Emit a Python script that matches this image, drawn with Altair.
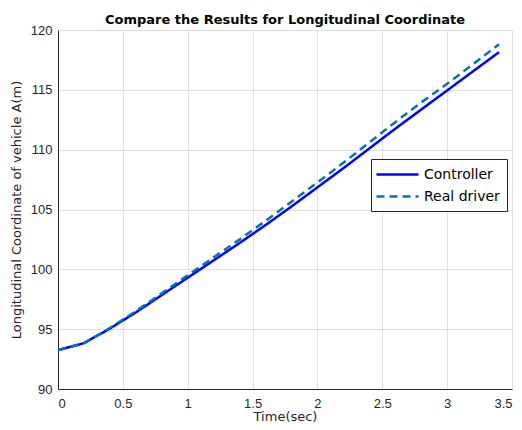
import altair as alt
import pandas as pd

time = [0.0, 0.2, 0.4, 0.6, 0.8, 1.0, 1.2, 1.4, 1.6, 1.8, 2.0, 2.2, 2.4, 2.6, 2.8, 3.0, 3.2, 3.4]
controller = [93.25, 93.83, 95.05, 96.4, 97.85, 99.3, 100.75, 102.2, 103.7, 105.25,
              106.85, 108.45, 110.1, 111.75, 113.35, 114.95, 116.55, 118.15]
real_driver = [93.25, 93.83, 95.1, 96.5, 98.0, 99.5, 101.0, 102.5, 104.05, 105.65,
               107.25, 108.9, 110.6, 112.3, 113.95, 115.5, 117.15, 118.8]
series_names = ["Controller", "Real driver"]
x_ticks = [0, 0.5, 1, 1.5, 2, 2.5, 3, 3.5]
y_ticks = [90, 95, 100, 105, 110, 115, 120]

rows = []
for name, vals in zip(series_names, [controller, real_driver]):
    for t, v in zip(time, vals):
        rows.append({"t": t, "v": v, "series": name})
df = pd.DataFrame(rows)

axis_common = dict(
    grid=True, gridColor="#DFDFDF", gridWidth=1,
    domainColor="#262626", domainWidth=1,
    ticks=False,
    labelFont="Liberation Sans", labelFontSize=13, labelColor="#262626",
    titleFont="DejaVu Sans", titleFontSize=13, titleFontWeight="normal", titleColor="#262626",
)

chart = alt.Chart(df).mark_line(strokeWidth=2.5).encode(
    x=alt.X("t:Q", title="Time(sec)",
            scale=alt.Scale(domain=[0, 3.5], nice=False, zero=False),
            axis=alt.Axis(values=x_ticks, labelPadding=8, titlePadding=0,
                          labelExpr="datum.value", **axis_common)),
    y=alt.Y("v:Q", title="Longitudinal Coordinate of vehicle A(m)",
            scale=alt.Scale(domain=[90, 120], nice=False, zero=False),
            axis=alt.Axis(values=y_ticks, labelPadding=6, titlePadding=7, **axis_common)),
    color=alt.Color("series:N", sort=series_names,
                    scale=alt.Scale(domain=series_names, range=["#0000FF", "#0072BD"]),
                    legend=alt.Legend(title=None, orient="none", legendX=313, legendY=129,
                                      symbolType="M-1.43,0H4.57", symbolSize=196,
                                      symbolStrokeWidth=2.5,
                                      labelFont="DejaVu Sans", labelFontSize=14, labelColor="#000000",
                                      labelOffset=29, padding=7, rowPadding=6,
                                      fillColor="white", strokeColor="#262626",
                                      cornerRadius=0)),
    strokeDash=alt.StrokeDash("series:N", sort=series_names,
                              scale=alt.Scale(domain=series_names, range=[[1, 0], [8, 5]]),
                              legend=None),
    order=alt.Order("t:Q"),
).properties(
    width=454, height=359,
    autosize=alt.AutoSizeParams(type="none"),
    padding={"left": 50, "top": 22, "right": 2, "bottom": 33},
    title=alt.Title("Compare the Results for Longitudinal Coordinate",
                    font="DejaVu Sans", fontSize=13, fontWeight="bold",
                    color="#000000", offset=-3, anchor="middle", frame="group"),
).configure_view(stroke=None)

chart.save("out.html", embed_options={"renderer": "svg", "actions": False})
